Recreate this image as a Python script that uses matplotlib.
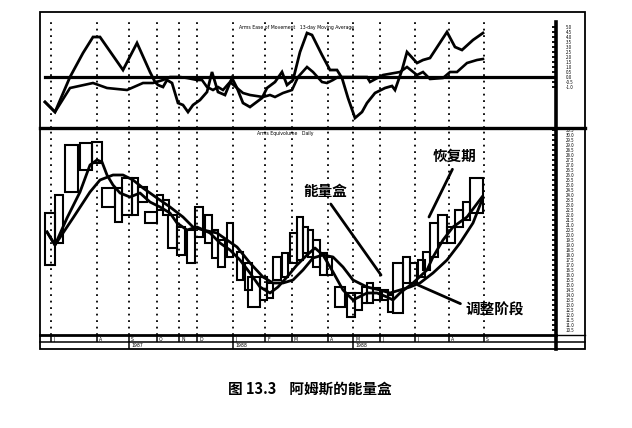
import matplotlib
matplotlib.use("Agg")
import matplotlib.pyplot as plt
from matplotlib.patches import Rectangle
from matplotlib.lines import Line2D
import matplotlib.transforms as mtrans
import numpy as np

plt.rcParams['font.family'] = ['Noto Sans CJK SC', 'DejaVu Sans']

# ---------------- data ----------------
# month separators on the equivolume (cumulative volume) axis
month_marks = [11, 57, 89, 117, 139, 157, 193, 225, 252, 288, 313, 340, 375, 409, 444]
month_labels = ['J', 'A', 'S', 'O', 'N', 'D', 'J', 'F', 'M', 'A', 'M', 'J', 'J', 'A', 'S']
year_marks = [89, 193, 313]
year_labels = ['1987', '1988', '1988']

# equivolume boxes: left edge (cum. volume), width (volume), high, low
box_left = [5, 15, 25, 40, 52, 62, 75, 82, 92, 98, 105, 117, 123, 128, 137, 147, 155, 165,
            172, 178, 187, 197, 205, 208, 220, 227, 233, 242, 250, 257, 263, 268, 273, 280,
            287, 295, 307, 315, 322, 327, 333, 342, 348, 353, 363, 370, 378, 383, 390, 398,
            407, 415, 423, 430]
box_volume = [10, 8, 13, 12, 10, 13, 7, 10, 6, 9, 12, 6, 6, 9, 8, 8, 8, 7,
              6, 7, 6, 6, 7, 12, 7, 6, 8, 6, 7, 6, 5, 5, 7, 7,
              5, 10, 8, 7, 5, 6, 7, 6, 5, 10, 7, 7, 7, 7, 8, 9,
              8, 8, 7, 13]
box_high = [22.2, 24.0, 29.0, 29.2, 29.3, 24.7, 24.7, 25.7, 25.7, 24.8, 22.3, 24.0, 23.5, 22.0,
            20.8, 20.5, 22.8, 22.0, 20.5, 19.5, 21.2, 18.3, 17.2, 15.8, 15.8, 15.2, 17.8, 18.2,
            20.2, 21.8, 20.8, 20.5, 19.5, 18.2, 17.8, 14.8, 14.2, 14.2, 14.8, 15.2, 14.7, 14.5,
            14.0, 17.2, 17.8, 17.2, 17.5, 18.3, 21.2, 22.0, 20.8, 22.5, 23.3, 25.7]
box_low = [17.0, 19.2, 24.3, 26.5, 27.2, 22.8, 21.3, 22.0, 22.0, 23.3, 21.2, 22.5, 22.0, 18.7,
           18.0, 17.2, 19.8, 19.2, 17.7, 16.8, 17.8, 15.5, 14.5, 12.8, 13.5, 13.7, 15.5, 15.8,
           17.2, 17.5, 18.2, 17.8, 16.8, 16.0, 16.0, 12.8, 11.8, 12.5, 13.2, 13.2, 13.5, 13.5,
           12.3, 12.2, 15.2, 15.2, 15.8, 16.5, 17.8, 19.2, 19.2, 20.8, 21.5, 22.2]

# moving averages on the price panel
fast_x = [7, 15, 27, 40, 50, 57, 62, 67, 73, 80, 90, 100, 110, 120, 130, 137, 147, 157, 170,
          180, 190, 200, 210, 220, 230, 238, 247, 257, 267, 275, 283, 293, 303, 313, 327, 337,
          347, 353, 360, 373, 387, 393, 403, 413, 427, 442]
fast_y = [20.3, 19.0, 21.7, 24.3, 27.0, 27.5, 27.3, 26.0, 25.0, 24.2, 23.8, 24.2, 23.3, 22.8,
          22.2, 21.2, 20.5, 20.8, 20.2, 19.2, 18.5, 17.5, 16.2, 14.8, 14.2, 14.8, 15.8, 17.0,
          18.0, 18.7, 18.0, 16.3, 14.5, 13.5, 14.2, 14.2, 13.8, 13.5, 14.2, 15.2, 16.5, 17.8,
          19.5, 20.8, 21.8, 23.8]
slow_x = [7, 15, 33, 50, 60, 73, 83, 93, 103, 117, 130, 143, 153, 163, 177, 197, 210, 223,
          233, 243, 253, 263, 273, 283, 293, 303, 313, 327, 340, 350, 360, 370, 380, 393, 407,
          420, 433, 442]
slow_y = [20.3, 19.0, 21.7, 24.3, 25.5, 26.0, 26.0, 25.5, 24.7, 23.7, 22.8, 21.8, 20.8, 20.5,
          20.2, 18.8, 17.2, 15.8, 15.2, 15.2, 15.5, 16.5, 17.7, 18.0, 17.8, 16.8, 15.5, 14.8,
          14.5, 14.2, 14.5, 14.8, 15.2, 16.2, 17.5, 19.2, 21.2, 23.5]

# oscillator panel: two lines
osc1_x = [5, 15, 30, 43, 53, 60, 83, 97, 110, 115, 118, 123, 127, 132, 138, 143, 148, 153, 160,
          167, 172, 175, 178, 185, 192, 197, 203, 210, 222, 227, 235, 242, 247, 253, 260, 267,
          272, 282, 290, 297, 302, 308, 315, 322, 327, 335, 345, 352, 355, 362, 367, 377, 383,
          390, 407, 415, 422, 433, 443]
osc1_y = [-2.5, -3.5, 0.0, 2.4, 4.0, 4.0, 0.7, 3.4, 0.5, -0.5, -0.8, -1.0, -0.3, -0.6, -2.6,
          -2.8, -3.5, -2.8, -2.3, -1.5, 0.5, -0.5, -1.5, -1.8, -0.1, -1.1, -2.6, -3.0, -2.1,
          -1.1, -0.5, 0.5, -0.8, -0.3, 2.5, 4.4, 4.2, 2.2, 0.7, 0.7, -0.1, -2.1, -4.1, -3.5,
          -2.6, -1.6, -1.1, -0.9, -1.3, 0.7, 2.5, 1.4, 1.7, 1.9, 4.5, 3.0, 2.7, 3.7, 4.4]
osc2_x = [5, 15, 30, 53, 67, 87, 103, 113, 123, 130, 140, 147, 157, 162, 167, 173, 178, 183,
          190, 197, 203, 210, 223, 230, 235, 243, 252, 258, 267, 273, 282, 287, 293, 298, 310,
          327, 330, 343, 360, 367, 377, 383, 390, 403, 410, 417, 427, 437, 443]
osc2_y = [-2.5, -3.5, -1.1, -0.6, -1.1, -1.3, -0.6, -0.6, -0.3, 0.0, 0.0, -0.1, -0.3, -0.3,
          -1.0, -1.3, -1.0, -1.3, -0.5, -1.1, -1.6, -1.8, -2.0, -1.8, -2.0, -1.6, -1.3, 0.0,
          1.0, 0.5, -0.5, -0.6, -0.3, 0.0, 0.0, 0.0, -0.5, 0.2, 0.5, 1.0, 0.2, 0.5, -0.2, -0.1,
          0.5, 0.5, 1.4, 1.7, 1.8]

# ---------------- figure ----------------
W, H = 632, 428
fig = plt.figure(figsize=(W / 100, H / 100), dpi=100)
fig.patch.set_facecolor('white')


def frac(x0, y0, x1, y1):
    return [x0 / W, 1 - y1 / H, (x1 - x0) / W, (y1 - y0) / H]


bg = fig.add_axes([0, 0, 1, 1], zorder=0)
bg.set_xlim(0, W)
bg.set_ylim(H, 0)
bg.axis('off')

ax1 = fig.add_axes(frac(40, 12, 556, 128), zorder=2)
ax2 = fig.add_axes(frac(40, 128, 556, 335), zorder=2)
for ax in (ax1, ax2):
    ax.set_facecolor('none')
    for s in ax.spines.values():
        s.set_visible(False)
    ax.set_xlim(0, 516)
    ax.yaxis.tick_right()
    ax.tick_params(axis='y', direction='in', length=3, width=1.3, labelsize=3.2, pad=7,
                   colors='black')
ax1.set_ylim(-5.1, 6.5)
ax2.set_ylim(10.0, 30.7)

# frame and strips (layout)
K = 'black'
bg.add_patch(Rectangle((40, 12), 545, 337, fill=False, lw=1.3, ec=K))
bg.add_line(Line2D([40, 585], [128, 128], lw=2.4, color=K))
bg.add_line(Line2D([40, 556], [335, 335], lw=2.0, color=K))
bg.add_line(Line2D([40, 585], [342, 342], lw=1.1, color=K))
bg.add_line(Line2D([556, 556], [22, 349], lw=2.6, color=K))
bg.add_line(Line2D([556, 585], [335, 335], lw=1.0, color=K))

# ---------------- oscillator panel ----------------
ax1.axhline(0, xmin=5 / 516, xmax=1, color=K, lw=2.3)
ax1.plot(osc1_x, osc1_y, color=K, lw=2.0, solid_joinstyle='miter')
ax1.plot(osc2_x, osc2_y, color=K, lw=1.9, solid_joinstyle='miter')
for m in month_marks:
    ax1.axvline(m, ymin=0, ymax=0.95, color=K, lw=1.3, ls=(0, (1, 2.6)))
t1 = np.arange(-1.0, 5.01, 0.5)
ax1.set_yticks(t1)
ax1.set_yticklabels([f'{v:.1f}' for v in t1])
ax1.set_xticks([])
ax1.text(0.385, 0.87, 'Arms Ease of Movement   13-day Moving Average', transform=ax1.transAxes,
         fontsize=3.3, family='DejaVu Sans', va='center')

# ---------------- equivolume panel ----------------
for l, w, hi, lo in zip(box_left, box_volume, box_high, box_low):
    ax2.add_patch(Rectangle((l, lo), w, hi - lo, fill=False, ec=K, lw=1.5, zorder=3))
ax2.plot(fast_x, fast_y, color=K, lw=2.0, zorder=4)
ax2.plot(slow_x, slow_y, color=K, lw=2.0, zorder=4)
for m in month_marks:
    ax2.axvline(m, color=K, lw=1.3, ls=(0, (1, 2.6)), zorder=1)
t2 = np.arange(10.5, 30.51, 0.5)
ax2.set_yticks(t2)
ax2.set_yticklabels([f'{v:.1f}' for v in t2])
ax2.text(0.42, 0.975, 'Arms Equivolume   Daily', transform=ax2.transAxes,
         fontsize=3.3, family='DejaVu Sans', va='center')

# date strip below the price panel
ax2.set_xticks(month_marks)
ax2.set_xticklabels([])
ax2.tick_params(axis='x', direction='out', length=5, width=1.1, colors=K)
xt = mtrans.blended_transform_factory(ax2.transData, ax2.transAxes)
for m, lab in zip(month_marks, month_labels):
    ax2.text(m + 2, -0.008, lab, transform=xt, fontsize=3.3, va='top', ha='left',
             family='DejaVu Sans')
for m, lab in zip(year_marks, year_labels):
    ax2.add_line(Line2D([m, m], [-0.034, -0.065], transform=xt, color=K, lw=1.1,
                        clip_on=False))
    ax2.text(m + 2, -0.040, lab, transform=xt, fontsize=3.3, va='top', ha='left',
             family='DejaVu Sans')

# annotations
ann_kw = dict(fontsize=10.5, fontweight='bold', color=K)
ax2.annotate('能量盒', xy=(341, 16.0), xytext=(285, 24.4), ha='center', va='center',
             arrowprops=dict(arrowstyle='-', lw=2.0, color=K, shrinkA=2, shrinkB=0,
                             relpos=(0.55, 0.0)), **ann_kw)
ax2.annotate('恢复期', xy=(389, 21.8), xytext=(415, 27.9), ha='center', va='center',
             arrowprops=dict(arrowstyle='-', lw=2.0, color=K, shrinkA=2, shrinkB=0,
                             relpos=(0.5, 0.0)), **ann_kw)
ax2.annotate('调整阶段', xy=(378, 15.0), xytext=(455, 12.5), ha='center', va='center',
             arrowprops=dict(arrowstyle='-', lw=2.0, color=K, shrinkA=2, shrinkB=0,
                             relpos=(0.0, 0.75)), **ann_kw)

# caption
fig.text(310 / W, 1 - 389 / H, '图 13.3    阿姆斯的能量盒', ha='center', va='center',
         fontsize=10.5, fontweight='bold', color=K)

fig.savefig('out.png', dpi=100, facecolor='white')
